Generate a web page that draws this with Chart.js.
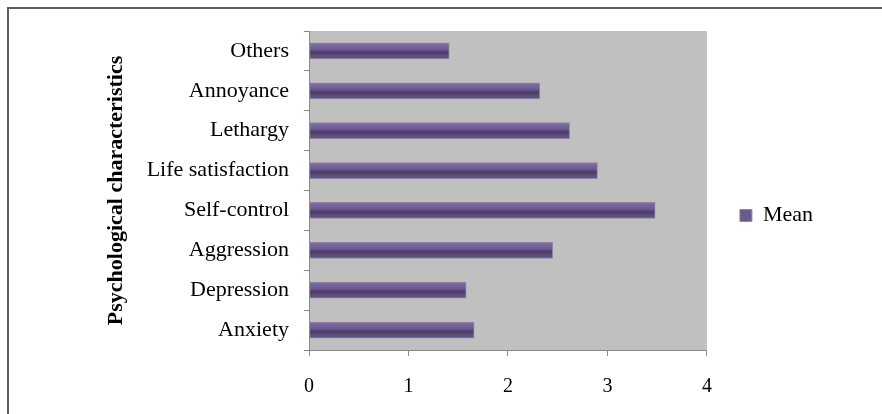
<!DOCTYPE html>
<html>
<head>
<meta charset="utf-8">
<script src="https://cdn.jsdelivr.net/npm/chart.js@4.4.1/dist/chart.umd.min.js"></script>
<style>
  html, body { margin: 0; padding: 0; background: #fff; }
  #wrap { position: relative; width: 882px; height: 414px; }
  #frame { position: absolute; left: 7px; top: 7px; right: 0; bottom: 0;
           border-left: 2px solid #5f5f5f; border-top: 2px solid #5f5f5f; pointer-events: none; }
</style>
</head>
<body>
<div id="wrap">
  <canvas id="chart" width="882" height="414"></canvas>
  <div id="frame"></div>
</div>
<script>
// --- data (top to bottom as shown) ---
const categories = ['Others', 'Annoyance', 'Lethargy', 'Life satisfaction', 'Self-control', 'Aggression', 'Depression', 'Anxiety'];
const meanValues = [1.41, 2.32, 2.62, 2.90, 3.48, 2.45, 1.58, 1.66];
const xTicks = [0, 1, 2, 3, 4];
const seriesName = 'Mean';
const axisTitle = 'Psychological characteristics';

const FONT = "'Liberation Serif', 'Times New Roman', serif";

// gray plot background
const plotBg = {
    id: 'plotBg',
    beforeDraw(chart) {
        const { ctx, chartArea: a } = chart;
        ctx.save();
        ctx.fillStyle = '#c0c0c0';
        ctx.fillRect(a.left, a.top, a.right - a.left, a.bottom - a.top);
        ctx.restore();
    }
};

// nudge the legend item up a bit (sits a little below centre in the original)
const legendNudge = {
    id: 'legendNudge',
    afterLayout(chart) { chart.legend.bottom -= 14; }
};

// bevelled purple bar fill
function barFill(c) {
    const chart = c.chart;
    if (!chart.chartArea || c.type !== 'data') return '#6b5790';
    const y = chart.scales.y.getPixelForValue(c.dataIndex);
    const g = chart.ctx.createLinearGradient(0, y - 8, 0, y + 8);
    g.addColorStop(0, '#85749f');
    g.addColorStop(0.15, '#7a66a0');
    g.addColorStop(0.4, '#6d5994');
    g.addColorStop(0.6, '#4a3c62');
    g.addColorStop(0.8, '#5e4d7c');
    g.addColorStop(1, '#685786');
    return g;
}

new Chart(document.getElementById('chart').getContext('2d'), {
    type: 'bar',
    data: {
        labels: categories,
        datasets: [{
            label: seriesName,
            data: meanValues,
            backgroundColor: barFill,
            borderColor: '#8f87a3',
            borderWidth: 1,
            borderSkipped: false,
            barThickness: 16
        }]
    },
    plugins: [plotBg, legendNudge],
    options: {
        indexAxis: 'y',
        responsive: false,
        animation: false,
        layout: { padding: { left: 103, top: 31, right: 59, bottom: 0 } },
        plugins: {
            tooltip: { enabled: false },
            legend: {
                position: 'right',
                labels: {
                    color: '#000',
                    font: { family: FONT, size: 22 },
                    boxWidth: 12, boxHeight: 12,
                    padding: 33,
                    generateLabels: () => [{
                        text: seriesName, fillStyle: '#6a5a8c', strokeStyle: '#8f87a3', lineWidth: 1, fontColor: '#000'
                    }]
                }
            }
        },
        scales: {
            x: {
                min: 0, max: 4,
                afterBuildTicks: s => { s.ticks = xTicks.map(v => ({ value: v })); },
                afterFit: s => { s.height = 64; },
                grid: { drawOnChartArea: false, drawTicks: true, tickLength: 6, color: '#8a8a8a' },
                border: { display: true, color: '#8a8a8a' },
                ticks: { color: '#000', padding: 19, font: { family: FONT, size: 20 } }
            },
            y: {
                afterFit: s => { s.width = 206; },
                grid: { drawOnChartArea: false, drawTicks: true, tickLength: 5, color: '#8a8a8a', offset: true },
                border: { display: true, color: '#8a8a8a' },
                ticks: { color: '#000', padding: 15, font: { family: FONT, size: 22 } },
                title: {
                    display: true, text: axisTitle, color: '#000',
                    font: { family: FONT, size: 22, weight: 'bold' },
                    padding: { top: 0, bottom: 10 }
                }
            }
        }
    }
});
</script>
</body>
</html>
